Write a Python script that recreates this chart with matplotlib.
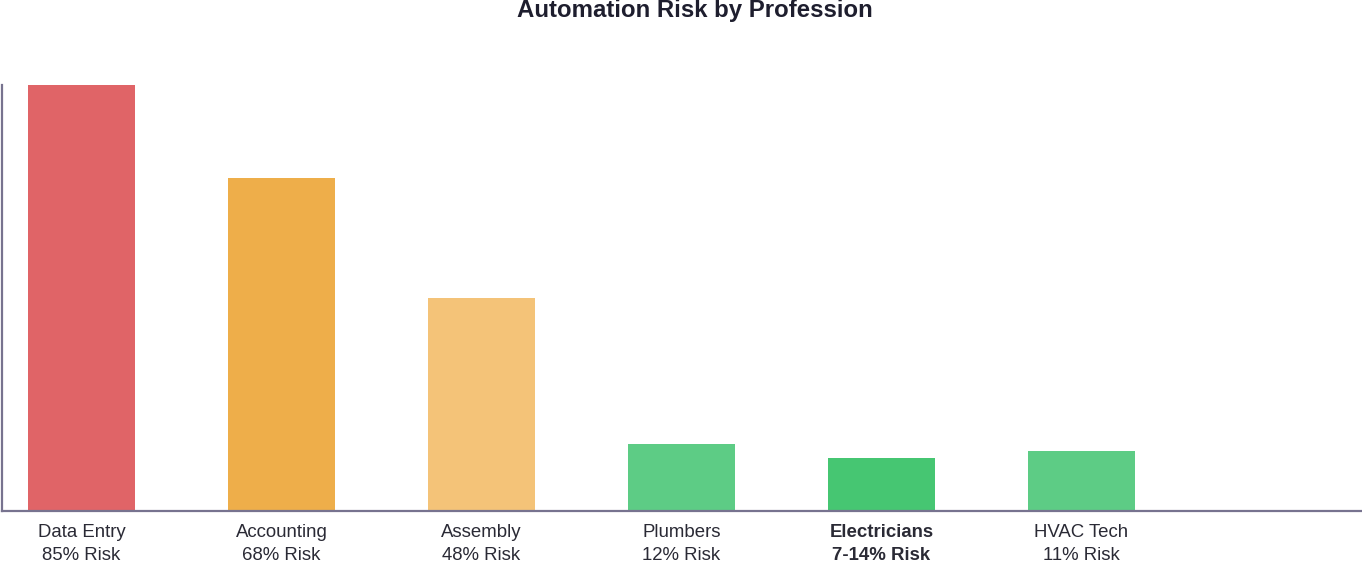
import matplotlib
matplotlib.use('Agg')
import matplotlib.pyplot as plt

# Data
professions = ['Data Entry', 'Accounting', 'Assembly', 'Plumbers', 'Electricians', 'HVAC Tech']
risk_labels = ['85% Risk', '68% Risk', '48% Risk', '12% Risk', '7-14% Risk', '11% Risk']
bar_values = [85, 66.4, 42.4, 13.2, 10.5, 11.8]
bar_colors = ['#e06467', '#eeae4a', '#f4c378', '#5dcc85', '#46c672', '#5dcc85']
highlight = 'Electricians'

plt.rcParams['font.family'] = ['Liberation Sans', 'DejaVu Sans']

fig = plt.figure(figsize=(13.62, 5.63), dpi=100)
ax = fig.add_axes([2 / 1362, (563 - 510.5) / 563, 1360 / 1362, 425.5 / 563])

x = list(range(len(professions)))
ax.bar(x, bar_values, width=0.535, color=bar_colors)

ax.set_xlim(-0.3975, 6.4025)
ax.set_ylim(0, 85)

ax.set_xticks(x)
ax.set_xticklabels([f'{p}\n{r}' for p, r in zip(professions, risk_labels)],
                   fontsize=13.4, color='#2a2a35', linespacing=1.52)
for lbl, p in zip(ax.get_xticklabels(), professions):
    if p == highlight:
        lbl.set_fontweight('bold')
ax.tick_params(axis='x', length=0, pad=9.5)
ax.set_yticks([])

for side in ['top', 'right']:
    ax.spines[side].set_visible(False)
for side in ['left', 'bottom']:
    ax.spines[side].set_color('#77738f')
    ax.spines[side].set_linewidth(1.6)

fig.text(694.5 / 1362, 1 - 10.5 / 563, 'Automation Risk by Profession',
         ha='center', va='center', fontsize=17.3, fontweight='bold', color='#1e1e2e')

fig.savefig('out.png', dpi=100)
